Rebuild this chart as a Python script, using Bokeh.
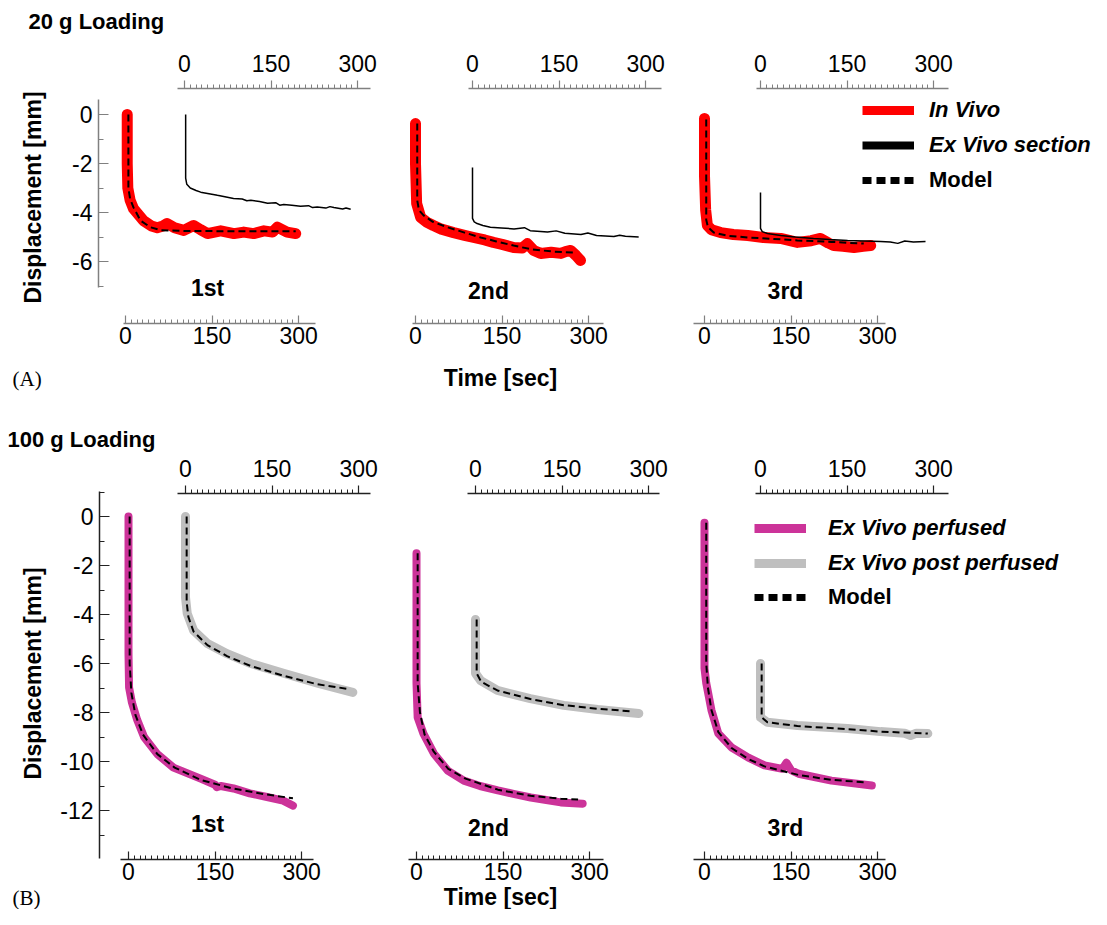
import math
from bokeh.plotting import figure
from bokeh.models import Range1d, LinearAxis, FixedTicker, Legend, LegendItem, Label
from bokeh.embed import file_html
from bokeh.resources import INLINE

# ---------------- data (time in s, displacement in mm) ----------------
X_TICKS = [0, 150, 300]
X_MINOR = list(range(0, 301, 10))
Y_TICKS_A = [0, -2, -4, -6]
Y_MINOR_A = [0, -1, -2, -3, -4, -5, -6, -7]
Y_TICKS_B = [0, -2, -4, -6, -8, -10, -12]
Y_MINOR_B = [1, 0, -1, -2, -3, -4, -5, -6, -7, -8, -9, -10, -11, -12, -13]
PANEL_NAMES = ["1st", "2nd", "3rd"]

# 20 g loading -- In Vivo
A1_vivo_t = [3, 3, 4, 8, 14, 31, 45, 55, 65, 72, 85, 101, 118, 130, 142, 165, 188, 205, 222, 240, 255, 263, 280, 295]
A1_vivo_d = [0, -2.0, -3.0, -3.5, -3.85, -4.33, -4.55, -4.62, -4.55, -4.45, -4.62, -4.73, -4.53, -4.7, -4.86, -4.75, -4.86, -4.8, -4.86, -4.75, -4.8, -4.6, -4.8, -4.86]
A1_model_t = [5, 5, 8, 14, 26, 43, 61, 100, 150, 200, 250, 295]
A1_model_d = [0, -3.0, -3.45, -3.8, -4.33, -4.6, -4.72, -4.75, -4.76, -4.77, -4.77, -4.77]
A1_sect_t = [2, 2, 4, 10, 20, 28, 40, 57, 70, 85, 100, 108, 115, 130, 144, 158, 165, 172, 186, 201, 215, 222, 230, 245, 252, 259, 274, 280, 288]
A1_sect_d = [0, -2.6, -2.85, -3.0, -3.1, -3.17, -3.22, -3.3, -3.36, -3.43, -3.45, -3.52, -3.5, -3.55, -3.62, -3.6, -3.7, -3.67, -3.7, -3.74, -3.72, -3.8, -3.78, -3.82, -3.76, -3.8, -3.86, -3.82, -3.87]

A2_vivo_t = [0, 0, 2, 9, 20, 31, 45, 66, 85, 101, 120, 135, 150, 170, 185, 194, 205, 217, 235, 252, 260, 269, 278, 286]
A2_vivo_d = [-0.37, -2.0, -3.63, -4.2, -4.4, -4.53, -4.68, -4.82, -4.93, -5.02, -5.12, -5.22, -5.3, -5.43, -5.45, -5.27, -5.55, -5.67, -5.62, -5.67, -5.6, -5.55, -5.75, -5.96]
A2_model_t = [3, 3, 6, 14, 30, 55, 85, 113, 140, 170, 200, 240, 274]
A2_model_d = [-0.37, -3.5, -3.9, -4.12, -4.38, -4.6, -4.82, -5.02, -5.18, -5.35, -5.5, -5.6, -5.63]
A2_sect_t = [0, 0, 3, 8, 18, 31, 50, 72, 90, 100, 130, 145, 160, 188, 200, 215, 245, 255, 265, 288]
A2_sect_d = [-2.16, -4.24, -4.38, -4.45, -4.53, -4.6, -4.63, -4.67, -4.62, -4.74, -4.8, -4.75, -4.85, -4.9, -4.84, -4.94, -4.98, -4.93, -4.97, -5.0]

A3_vivo_t = [0, 0, 2, 5, 12, 28, 50, 75, 102, 132, 161, 185, 201, 215, 224, 240, 259, 275, 288]
A3_vivo_d = [-0.16, -2.5, -3.9, -4.53, -4.7, -4.82, -4.9, -4.94, -5.02, -5.06, -5.22, -5.15, -5.06, -5.25, -5.35, -5.38, -5.43, -5.38, -5.35]
A3_model_t = [3, 3, 6, 16, 40, 75, 120, 161, 220, 276]
A3_model_d = [-0.2, -4.3, -4.6, -4.82, -4.95, -5.02, -5.08, -5.14, -5.2, -5.27]
A3_sect_t = [0, 0, 3, 12, 35, 60, 92, 120, 151, 180, 208, 225, 238, 250, 265, 286]
A3_sect_d = [-3.18, -4.65, -4.78, -4.86, -4.94, -5.0, -5.06, -5.1, -5.14, -5.16, -5.18, -5.2, -5.26, -5.16, -5.2, -5.18]

# 100 g loading -- Ex Vivo perfused / post perfused
B1_perf_t = [0, 0, 0, 1, 6, 15, 27, 50, 78, 125, 150, 153, 160, 182, 210, 240, 268, 285]
B1_perf_d = [0, -4.9, -5.6, -6.98, -7.6, -8.3, -9.0, -9.7, -10.25, -10.7, -10.95, -11.05, -11.0, -11.1, -11.3, -11.45, -11.6, -11.8]
B1_pmod_t = [2, 2, 5, 12, 25, 50, 80, 125, 180, 240, 285]
B1_pmod_d = [0, -6.0, -7.2, -8.1, -8.9, -9.7, -10.25, -10.75, -11.1, -11.35, -11.5]
B1_post_t = [0, 0, 3, 14, 38, 72, 113, 170, 229, 257, 290]
B1_post_d = [0, -3.3, -3.96, -4.65, -5.18, -5.6, -6.0, -6.4, -6.8, -6.98, -7.18]
B1_qmod_t = [2, 2, 5, 14, 38, 72, 113, 170, 229, 285]
B1_qmod_d = [0, -3.5, -4.1, -4.7, -5.25, -5.7, -6.1, -6.5, -6.85, -7.05]

B2_perf_t = [0, 0, 2, 12, 30, 54, 82, 110, 141, 170, 198, 225, 250, 288]
B2_perf_d = [-1.5, -6.8, -8.2, -8.86, -9.67, -10.37, -10.78, -11.0, -11.18, -11.33, -11.47, -11.57, -11.67, -11.72]
B2_pmod_t = [2, 2, 6, 14, 30, 55, 85, 141, 198, 250, 280]
B2_pmod_d = [-1.5, -6.8, -8.0, -8.9, -9.6, -10.3, -10.7, -11.15, -11.4, -11.52, -11.55]
B2_post_t = [0, 0, 9, 38, 95, 153, 212, 283]
B2_post_d = [-4.2, -6.4, -6.7, -7.1, -7.43, -7.71, -7.88, -8.04]
B2_qmod_t = [2, 2, 10, 38, 95, 153, 212, 270]
B2_qmod_d = [-4.2, -6.4, -6.75, -7.1, -7.45, -7.7, -7.85, -7.95]

B3_perf_t = [0, 0, 0, 3, 12, 24, 47, 76, 104, 135, 142, 150, 163, 220, 290]
B3_perf_d = [-0.25, -4.6, -6.2, -6.8, -7.9, -8.86, -9.43, -9.84, -10.16, -10.3, -10.05, -10.35, -10.5, -10.78, -10.98]
B3_pmod_t = [3, 3, 6, 12, 24, 47, 76, 104, 163, 220, 280]
B3_pmod_d = [-0.25, -6.0, -7.0, -7.9, -8.8, -9.45, -9.9, -10.2, -10.55, -10.75, -10.85]
B3_post_t = [0, 0, 12, 64, 151, 208, 250, 260, 270, 290]
B3_post_d = [-6.0, -8.2, -8.4, -8.53, -8.65, -8.78, -8.85, -8.94, -8.85, -8.86]
B3_qmod_t = [2, 2, 12, 64, 151, 208, 290]
B3_qmod_d = [-6.0, -8.2, -8.4, -8.55, -8.68, -8.78, -8.86]

# ---------------- styling / layout ----------------
W, H = 1091, 909
OFF = 0
K = 0.577          # px per second
KY = 24.5          # px per mm
RED = "#ff0000"
MAGENTA = "#cc3399"
GRAY = "#bfbfbf"
FONT = "Liberation Sans"
AXC = {"A": "#808080", "B": "#222222"}

p = figure(width=W, height=H, x_range=Range1d(0, W), y_range=Range1d(H, 0),
           x_axis_type=None, y_axis_type=None, output_backend="svg",
           toolbar_location=None, min_border=0, outline_line_color=None,
           background_fill_color="white", border_fill_color="white")


def xr(x0):
    s = x0 - OFF
    return Range1d(start=-s / K, end=(W - s) / K)


def yr(y0):
    s = y0 - OFF
    return Range1d(start=(s - H) / KY, end=s / KY)


rows = {
    "A": dict(y0=114, ybot=323, ytop=88, yax_x=98, ybounds=(-7.06, 0.61),
              yticks=Y_TICKS_A, yminor=Y_MINOR_A,
              bx0=[125, 415, 704], tx0=[184, 472, 760],
              bext=[(123, 315), (412, 603), (693, 885)],
              text=[(177, 370), (468, 661), (756, 948)],
              lab=[(207, 287), (488, 290), (785, 290)]),
    "B": dict(y0=516, ybot=859, ytop=493, yax_x=99, ybounds=(-13.96, 1.02),
              yticks=Y_TICKS_B, yminor=Y_MINOR_B,
              bx0=[128, 416, 704], tx0=[185, 475, 760],
              bext=[(120, 313), (408, 603), (693, 885)],
              text=[(177, 370), (467, 659), (755, 948)],
              lab=[(207, 823), (488, 827), (785, 827)]),
}

for r, cfg in rows.items():
    p.extra_y_ranges["y" + r] = yr(cfg["y0"])
    for i in range(3):
        p.extra_x_ranges[f"{r}{i}b"] = xr(cfg["bx0"][i])
        p.extra_x_ranges[f"{r}{i}t"] = xr(cfg["tx0"][i])


def style(ax, color, tin, tout, mnin, mnout, standoff, ticks):
    ax.axis_line_color = color
    ax.axis_line_width = 1.5
    ax.major_tick_line_color = color
    ax.minor_tick_line_color = color
    ax.major_tick_line_width = 1.2
    ax.minor_tick_line_width = 1.0
    ax.major_tick_in = tin
    ax.major_tick_out = tout
    ax.minor_tick_in = mnin
    ax.minor_tick_out = mnout
    ax.major_label_text_font = FONT
    ax.major_label_text_font_size = "23px"
    ax.major_label_text_color = "black"
    ax.major_label_standoff = standoff
    ax.major_label_overrides = {t: str(t) for t in ticks}


for r, cfg in rows.items():
    c = AXC[r]
    ya = LinearAxis(y_range_name="y" + r, fixed_location=cfg["yax_x"] - OFF,
                    bounds=cfg["ybounds"],
                    ticker=FixedTicker(ticks=cfg["yticks"], minor_ticks=cfg["yminor"]))
    style(ya, c, 10, 0, 5, 0, 6, cfg["yticks"])
    p.add_layout(ya, "left")
    for i in range(3):
        b0 = cfg["bx0"][i]
        lo, hi = cfg["bext"][i]
        ba = LinearAxis(x_range_name=f"{r}{i}b", fixed_location=cfg["ybot"] - OFF,
                        bounds=((lo - b0) / K, (hi - b0) / K),
                        ticker=FixedTicker(ticks=X_TICKS, minor_ticks=X_MINOR))
        style(ba, c, 8, 0, 4, 0, 3, X_TICKS)
        p.add_layout(ba, "below")
        t0 = cfg["tx0"][i]
        lo, hi = cfg["text"][i]
        ta = LinearAxis(x_range_name=f"{r}{i}t", fixed_location=cfg["ytop"] - OFF,
                        bounds=((lo - t0) / K, (hi - t0) / K),
                        ticker=FixedTicker(ticks=X_TICKS, minor_ticks=X_MINOR))
        style(ta, c, 0, 8, 0, 4, 9, X_TICKS)
        p.add_layout(ta, "above")

# ---------------- data lines ----------------
A_sets = [(A1_vivo_t, A1_vivo_d, A1_model_t, A1_model_d, A1_sect_t, A1_sect_d),
          (A2_vivo_t, A2_vivo_d, A2_model_t, A2_model_d, A2_sect_t, A2_sect_d),
          (A3_vivo_t, A3_vivo_d, A3_model_t, A3_model_d, A3_sect_t, A3_sect_d)]
for i, (vt, vd, mt, md, st, sd) in enumerate(A_sets):
    p.line(vt, vd, x_range_name=f"A{i}b", y_range_name="yA", line_color=RED,
           line_width=11, line_join="round", line_cap="round")
    p.line(st, sd, x_range_name=f"A{i}t", y_range_name="yA", line_color="black",
           line_width=1.5)
    p.line(mt, md, x_range_name=f"A{i}b", y_range_name="yA", line_color="black",
           line_width=2, line_dash="7 4")

B_sets = [(B1_perf_t, B1_perf_d, B1_pmod_t, B1_pmod_d, B1_post_t, B1_post_d, B1_qmod_t, B1_qmod_d),
          (B2_perf_t, B2_perf_d, B2_pmod_t, B2_pmod_d, B2_post_t, B2_post_d, B2_qmod_t, B2_qmod_d),
          (B3_perf_t, B3_perf_d, B3_pmod_t, B3_pmod_d, B3_post_t, B3_post_d, B3_qmod_t, B3_qmod_d)]
for i, (pt, pd, mt, md, qt, qd, nt, nd) in enumerate(B_sets):
    p.line(qt, qd, x_range_name=f"B{i}t", y_range_name="yB", line_color=GRAY,
           line_width=9, line_join="round", line_cap="round")
    p.line(nt, nd, x_range_name=f"B{i}t", y_range_name="yB", line_color="black",
           line_width=2, line_dash="7 4")
    p.line(pt, pd, x_range_name=f"B{i}b", y_range_name="yB", line_color=MAGENTA,
           line_width=8, line_join="round", line_cap="round")
    p.line(mt, md, x_range_name=f"B{i}b", y_range_name="yB", line_color="black",
           line_width=2, line_dash="7 4")

# ---------------- legends ----------------
def make_legend(items, x_left, first_cy, font_style, standoff):
    row_h, spacing = 28, 7
    n = len(items)
    height = n * row_h + (n - 1) * spacing
    top = first_cy - OFF - row_h / 2
    leg = Legend(items=items, location=(x_left - OFF, H - top - height),
                 orientation="vertical", glyph_width=52, glyph_height=row_h,
                 label_height=row_h, label_standoff=standoff, spacing=spacing,
                 padding=0, margin=0, border_line_color=None,
                 background_fill_alpha=0, label_text_font=FONT,
                 label_text_color="black",
                 label_text_font_size="22px", label_text_font_style=font_style)
    p.add_layout(leg)


NAN = [float("nan")]
l_red = p.line(x=NAN, y=NAN, line_color=RED, line_width=9)
l_blk = p.line(x=NAN, y=NAN, line_color="black", line_width=8)
l_mod = p.line(x=NAN, y=NAN, line_color="black", line_width=7, line_dash="9 5")
l_mag = p.line(x=NAN, y=NAN, line_color=MAGENTA, line_width=9)
l_gry = p.line(x=NAN, y=NAN, line_color=GRAY, line_width=9)

make_legend([LegendItem(label="In Vivo", renderers=[l_red]),
             LegendItem(label="Ex Vivo section", renderers=[l_blk])],
            862, 110, "bold italic", 15)
make_legend([LegendItem(label="Model", renderers=[l_mod])], 862, 180, "bold", 15)
make_legend([LegendItem(label="Ex Vivo perfused", renderers=[l_mag]),
             LegendItem(label="Ex Vivo post perfused", renderers=[l_gry])],
            754, 528, "bold italic", 22)
make_legend([LegendItem(label="Model", renderers=[l_mod])], 754, 597, "bold", 22)

# ---------------- texts ----------------
def txt(x, y, s, size="23px", style="bold", align="left", font=FONT, angle=0.0):
    p.add_layout(Label(x=x - OFF, y=y - OFF, text=s, text_font=font,
                       text_font_size=size, text_font_style=style,
                       text_align=align, text_baseline="middle", angle=angle,
                       text_color="black"))


txt(28, 21, "20 g Loading", size="22px")
txt(7, 439, "100 g Loading", size="22px")
txt(12, 378, "(A)", size="21px", style="normal", font="Liberation Serif")
txt(12, 897, "(B)", size="21px", style="normal", font="Liberation Serif")
txt(500, 377, "Time [sec]", align="center")
txt(500, 896, "Time [sec]", align="center")
txt(32, 197, "Displacement [mm]", align="center", angle=math.pi / 2)
txt(32, 673, "Displacement [mm]", align="center", angle=math.pi / 2)
for r, cfg in rows.items():
    for i, (lx, ly) in enumerate(cfg["lab"]):
        txt(lx, ly, PANEL_NAMES[i], align="center")

open("out.html", "w").write(file_html(p, INLINE))
